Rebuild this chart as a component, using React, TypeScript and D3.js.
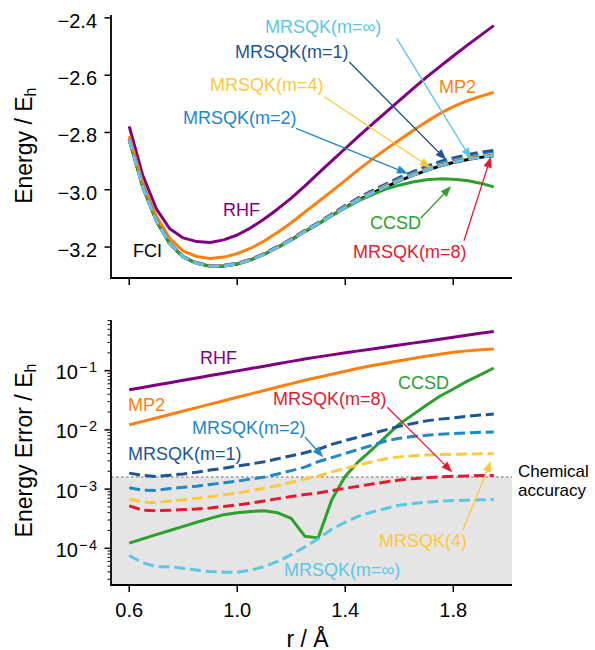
import React from "react";
import * as d3 from "d3";

// ---------- data ----------
const bondLength = [0.6, 0.65, 0.7, 0.75, 0.8, 0.85, 0.9, 0.95, 1.0, 1.05, 1.1, 1.15, 1.2, 1.25, 1.3, 1.35, 1.4, 1.45, 1.5, 1.55, 1.6, 1.65, 1.7, 1.75, 1.8, 1.85, 1.9, 1.95];

const fciEnergy = [-2.825, -2.99, -3.108, -3.188, -3.235, -3.257, -3.267, -3.266, -3.259, -3.245, -3.225, -3.201, -3.175, -3.146, -3.119, -3.09, -3.062, -3.035, -3.012, -2.99, -2.969, -2.95, -2.933, -2.917, -2.905, -2.895, -2.887, -2.881];
const rhfEnergy = [-2.779, -2.95, -3.066, -3.136, -3.168, -3.181, -3.184, -3.175, -3.158, -3.133, -3.102, -3.067, -3.029, -2.987, -2.943, -2.899, -2.856, -2.813, -2.771, -2.73, -2.689, -2.648, -2.608, -2.57, -2.533, -2.497, -2.462, -2.427];
const mp2Energy = [-2.813, -2.976, -3.092, -3.17, -3.214, -3.233, -3.24, -3.235, -3.223, -3.204, -3.179, -3.148, -3.115, -3.078, -3.042, -3.005, -2.967, -2.929, -2.893, -2.859, -2.826, -2.794, -2.763, -2.734, -2.71, -2.69, -2.674, -2.66];
const ccsdEnergy = [-2.8249, -2.9898, -3.1078, -3.1878, -3.2348, -3.2567, -3.2667, -3.2656, -3.2586, -3.2446, -3.2246, -3.2006, -3.1747, -3.1458, -3.1191, -3.0907, -3.0637, -3.038, -3.0167, -2.9977, -2.984, -2.973, -2.965, -2.962, -2.963, -2.968, -2.977, -2.99];

const rhfError = [0.0475, 0.0521, 0.0571, 0.0627, 0.0687, 0.0753, 0.0826, 0.0906, 0.0993, 0.109, 0.119, 0.131, 0.1435, 0.157, 0.171, 0.185, 0.2, 0.216, 0.233, 0.252, 0.272, 0.292, 0.315, 0.339, 0.367, 0.395, 0.427, 0.459];
const mp2Error = [0.0122, 0.0139, 0.0159, 0.0182, 0.0208, 0.0238, 0.0272, 0.031, 0.0355, 0.0406, 0.0463, 0.053, 0.0605, 0.0689, 0.0776, 0.0871, 0.0977, 0.1096, 0.122, 0.134, 0.147, 0.161, 0.176, 0.19, 0.204, 0.216, 0.225, 0.232];
const ccsdError = [1.22e-4, 1.44e-4, 1.7e-4, 2.0e-4, 2.35e-4, 2.75e-4, 3.2e-4, 3.7e-4, 4.0e-4, 4.2e-4, 4.3e-4, 3.98e-4, 3.2e-4, 1.6e-4, 1.5e-4, 6.6e-4, 1.65e-3, 2.95e-3, 4.7e-3, 7.7e-3, 1.26e-2, 1.8e-2, 2.6e-2, 3.7e-2, 4.9e-2, 6.6e-2, 8.5e-2, 0.111];
const m1Error = [1.86e-3, 1.7e-3, 1.63e-3, 1.72e-3, 1.8e-3, 1.93e-3, 2.1e-3, 2.25e-3, 2.45e-3, 2.65e-3, 2.9e-3, 3.25e-3, 3.65e-3, 4.1e-3, 4.7e-3, 5.7e-3, 6.6e-3, 7.6e-3, 8.7e-3, 1.0e-2, 1.15e-2, 1.28e-2, 1.42e-2, 1.52e-2, 1.6e-2, 1.7e-2, 1.78e-2, 1.85e-2];
const m2Error = [1.05e-3, 9.6e-4, 9.5e-4, 1.02e-3, 1.07e-3, 1.12e-3, 1.2e-3, 1.28e-3, 1.36e-3, 1.48e-3, 1.6e-3, 1.8e-3, 2.05e-3, 2.35e-3, 2.9e-3, 3.4e-3, 4.0e-3, 4.7e-3, 5.5e-3, 6.5e-3, 7.2e-3, 7.7e-3, 8.1e-3, 8.4e-3, 8.7e-3, 8.9e-3, 9.1e-3, 9.2e-3];
const m4Error = [6.8e-4, 6.0e-4, 5.9e-4, 6.3e-4, 6.6e-4, 7.0e-4, 7.4e-4, 8.0e-4, 8.6e-4, 9.4e-4, 1.03e-3, 1.15e-3, 1.3e-3, 1.48e-3, 1.65e-3, 1.95e-3, 2.25e-3, 2.55e-3, 2.9e-3, 3.25e-3, 3.5e-3, 3.65e-3, 3.75e-3, 3.82e-3, 3.88e-3, 3.92e-3, 3.95e-3, 3.95e-3];
const m8Error = [5.2e-4, 4.4e-4, 4.3e-4, 4.4e-4, 4.5e-4, 4.6e-4, 4.8e-4, 5.1e-4, 5.4e-4, 5.8e-4, 6.3e-4, 6.9e-4, 7.5e-4, 8.1e-4, 8.6e-4, 9.4e-4, 1.03e-3, 1.12e-3, 1.22e-3, 1.32e-3, 1.42e-3, 1.5e-3, 1.56e-3, 1.61e-3, 1.64e-3, 1.67e-3, 1.69e-3, 1.7e-3];
const mInfError = [7.5e-5, 5.7e-5, 4.9e-5, 4.9e-5, 4.6e-5, 4.3e-5, 4.05e-5, 3.95e-5, 3.95e-5, 4.3e-5, 4.9e-5, 6.0e-5, 7.8e-5, 1.05e-4, 1.45e-4, 2.1e-4, 2.75e-4, 3.5e-4, 4.1e-4, 4.7e-4, 5.35e-4, 5.7e-4, 6.0e-4, 6.25e-4, 6.4e-4, 6.5e-4, 6.6e-4, 6.65e-4];

const chemicalAccuracy = 1.6e-3;

const xTicks = [0.6, 1.0, 1.4, 1.8];
const energyTicks = [-3.2, -3.0, -2.8, -2.6, -2.4];
const errorDecades = [-4, -3, -2, -1];

// ---------- styles ----------
const C = {
  rhf: "#800080",
  mp2: "#ff7f0e",
  ccsd: "#2ca02c",
  fci: "#000000",
  m1: "#1d5590",
  m2: "#2287c5",
  m4: "#fdc83a",
  m8: "#e41a2e",
  mInf: "#5cc6e6",
};
const FONT = "'Liberation Sans', Arial, Helvetica, sans-serif";
const DASH = "11 4.8";
const LW = 3;

const topLabels = [
  { text: "MRSQK(m=∞)", r: 1.1028, v: -2.4511, color: C.mInf },
  { text: "MRSQK(m=1)", r: 0.9917, v: -2.5401, color: C.m1 },
  { text: "MRSQK(m=4)", r: 0.8991, v: -2.657, color: C.m4 },
  { text: "MRSQK(m=2)", r: 0.7991, v: -2.7705, color: C.m2 },
  { text: "RHF", r: 0.9473, v: -3.0916, color: C.rhf },
  { text: "FCI", r: 0.614, v: -3.2347, color: C.fci },
  { text: "MP2", r: 1.7471, v: -2.6623, color: C.mp2 },
  { text: "CCSD", r: 1.4916, v: -3.1387, color: C.ccsd },
  { text: "MRSQK(m=8)", r: 1.4287, v: -3.2382, color: C.m8 },
];
const topArrows = [
  { r1: 1.5905, v1: -2.4713, r2: 1.8645, v2: -2.8902, color: C.mInf },
  { r1: 1.415, v1: -2.5541, r2: 1.772, v2: -2.8937, color: C.m1 },
  { r1: 1.3224, v1: -2.6752, r2: 1.7138, v2: -2.9216, color: C.m4 },
  { r1: 1.2176, v1: -2.7855, r2: 1.6298, v2: -2.9425, color: C.m2 },
  { r1: 1.6794, v1: -3.0996, r2: 1.7905, v2: -2.9893, color: C.ccsd },
  { r1: 1.8397, v1: -3.1778, r2: 1.9386, v2: -2.8867, color: C.m8 },
];
const bottomLabels = [
  { text: "RHF", r: 0.8621, v: 0.1297, color: C.rhf, size: 18 },
  { text: "MP2", r: 0.5955, v: 0.02109, color: C.mp2, size: 18 },
  { text: "MRSQK(m=2)", r: 0.8325, v: 0.008519, color: C.m2, size: 18 },
  { text: "MRSQK(m=1)", r: 0.5955, v: 0.003099, color: C.m1, size: 18 },
  { text: "CCSD", r: 1.5953, v: 0.04903, color: C.ccsd, size: 18 },
  { text: "MRSQK(m=8)", r: 1.1324, v: 0.02683, color: C.m8, size: 18 },
  { text: "Chemical", r: 2.0397, v: 0.0016, color: "#000", size: 17 },
  { text: "accuracy", r: 2.0397, v: 0.00077, color: "#000", size: 17 },
  { text: "MRSQK(4)", r: 1.525, v: 0.0001051, color: C.m4, size: 18 },
  { text: "MRSQK(m=∞)", r: 1.1732, v: 3.402e-5, color: C.mInf, size: 18 },
];
const bottomArrows = [
  { r1: 1.2509, v1: 0.007582, r2: 1.3165, v2: 0.003524, color: C.m2 },
  { r1: 1.5557, v1: 0.02406, r2: 1.7942, v2: 0.001966, color: C.m8 },
  { r1: 1.8349, v1: 0.0001982, r2: 1.9386, v2: 0.0029, color: C.m4 },
];

// ---------- layout ----------
const W = 595;
const H = 650;
const L = 111;
const R = 512;
const TOP = { t: 15, b: 278 };
const BOT = { t: 320, b: 585 };

const x = d3.scaleLinear().domain([0.5325, 2.0175]).range([L, R]);
const yTop = d3.scaleLinear().domain([-3.308, -2.39]).range([TOP.b, TOP.t]);
const yBot = d3.scaleLog().domain([Math.pow(10, -4.62), Math.pow(10, -0.144)]).range([BOT.b, BOT.t]);

function Arrow({ x1, y1, x2, y2, color }: any) {
  const dx = x2 - x1;
  const dy = y2 - y1;
  const len = Math.sqrt(dx * dx + dy * dy);
  const ux = dx / len;
  const uy = dy / len;
  const hl = 10;
  const hw = 3.8;
  const bx = x2 - ux * hl;
  const by = y2 - uy * hl;
  const pts = [
    [x2, y2],
    [bx - uy * hw, by + ux * hw],
    [bx + uy * hw, by - ux * hw],
  ]
    .map((p) => p.join(","))
    .join(" ");
  return (
    <g>
      <line x1={x1} y1={y1} x2={bx} y2={by} stroke={color} strokeWidth={1.3} />
      <polygon points={pts} fill={color} stroke={color} strokeWidth={0.6} strokeLinejoin="miter" />
    </g>
  );
}

export default function App() {
  const lineTop = (vals: number[]) =>
    d3
      .line<number>()
      .x((_, i) => x(bondLength[i]))
      .y((v) => yTop(v))(vals) as string;
  const lineBot = (vals: number[]) =>
    d3
      .line<number>()
      .x((_, i) => x(bondLength[i]))
      .y((v) => yBot(v))(vals) as string;

  const mrsqk = [
    { err: m1Error, color: C.m1 },
    { err: m2Error, color: C.m2 },
    { err: m4Error, color: C.m4 },
    { err: m8Error, color: C.m8 },
    { err: mInfError, color: C.mInf },
  ];

  const minorTicks: number[] = [];
  for (let e = -5; e <= 0; e++) {
    for (let k = 2; k <= 9; k++) {
      const v = k * Math.pow(10, e);
      if (v >= yBot.domain()[0] && v <= yBot.domain()[1]) minorTicks.push(v);
    }
  }

  return (
    <svg
      width={W}
      height={H}
      viewBox={`0 0 ${W} ${H}`}
      style={{ position: "absolute", left: 0, top: 0, background: "#fff" }}
      fontFamily={FONT}
    >
      <rect x={0} y={0} width={W} height={H} fill="#fff" />

      {/* ===== TOP PANEL ===== */}
      <g fill="none" strokeLinejoin="round">
        <path d={lineTop(fciEnergy)} stroke={C.fci} strokeWidth={LW} />
        <path d={lineTop(ccsdEnergy)} stroke={C.ccsd} strokeWidth={LW} />
        <path d={lineTop(rhfEnergy)} stroke={C.rhf} strokeWidth={LW} />
        <path d={lineTop(mp2Energy)} stroke={C.mp2} strokeWidth={LW} />
        {mrsqk.map((s, j) => (
          <path
            key={j}
            d={lineTop(s.err.map((e, i) => fciEnergy[i] + e))}
            stroke={s.color}
            strokeWidth={LW}
            strokeDasharray={DASH}
          />
        ))}
      </g>
      {/* axes top */}
      <line x1={L} y1={TOP.t} x2={L} y2={TOP.b} stroke="#000" strokeWidth={1.8} />
      <line x1={L - 0.9} y1={TOP.b} x2={R} y2={TOP.b} stroke="#000" strokeWidth={1.8} />
      {energyTicks.map((t) => (
        <g key={t}>
          <line x1={L - 6.5} x2={L} y1={yTop(t)} y2={yTop(t)} stroke="#000" strokeWidth={1.5} />
          <text x={97} y={yTop(t) + 10} textAnchor="end" fontSize={20} fill="#000">
            {"−" + Math.abs(t).toFixed(1)}
          </text>
        </g>
      ))}
      {xTicks.map((t) => (
        <line key={t} x1={x(t)} x2={x(t)} y1={TOP.b} y2={TOP.b + 7} stroke="#000" strokeWidth={1.5} />
      ))}
      <text transform={`translate(32,145.7) rotate(-90)`} textAnchor="middle" fontSize={23} fill="#000">
        Energy / E
        <tspan dy={4} fontSize={16}>
          h
        </tspan>
      </text>
      {topLabels.map((l, i) => (
        <text key={i} x={x(l.r)} y={yTop(l.v)} fontSize={18} fill={l.color}>
          {l.text}
        </text>
      ))}
      {topArrows.map((a, i) => (
        <Arrow key={i} x1={x(a.r1)} y1={yTop(a.v1)} x2={x(a.r2)} y2={yTop(a.v2)} color={a.color} />
      ))}

      {/* ===== BOTTOM PANEL ===== */}
      <rect x={L} y={yBot(chemicalAccuracy)} width={R - L} height={BOT.b - yBot(chemicalAccuracy)} fill="#e5e5e5" />
      <line
        x1={L}
        x2={R}
        y1={yBot(chemicalAccuracy)}
        y2={yBot(chemicalAccuracy)}
        stroke="#9a9a9a"
        strokeWidth={1.5}
        strokeDasharray="2.5 2.5"
      />
      <g fill="none" strokeLinejoin="round">
        <path d={lineBot(rhfError)} stroke={C.rhf} strokeWidth={LW} />
        <path d={lineBot(mp2Error)} stroke={C.mp2} strokeWidth={LW} />
        <path d={lineBot(ccsdError)} stroke={C.ccsd} strokeWidth={LW} />
        {mrsqk.map((s, j) => (
          <path key={j} d={lineBot(s.err)} stroke={s.color} strokeWidth={LW} strokeDasharray={DASH} />
        ))}
      </g>
      <line x1={L} y1={BOT.t} x2={L} y2={BOT.b} stroke="#000" strokeWidth={1.8} />
      <line x1={L - 0.9} y1={BOT.b} x2={R} y2={BOT.b} stroke="#000" strokeWidth={1.8} />
      {minorTicks.map((v, i) => (
        <line key={i} x1={L - 3.5} x2={L} y1={yBot(v)} y2={yBot(v)} stroke="#000" strokeWidth={1} />
      ))}
      {errorDecades.map((e) => {
        const yy = yBot(Math.pow(10, e));
        return (
          <g key={e}>
            <line x1={L - 6.5} x2={L} y1={yy} y2={yy} stroke="#000" strokeWidth={1.5} />
            <text x={97} y={yy + 8.6} textAnchor="end" fontSize={20} fill="#000">
              10
              <tspan dy={-7} dx={1} fontSize={14.5}>
                −
              </tspan>
              <tspan dx={1.5} fontSize={14.5}>
                {Math.abs(e)}
              </tspan>
            </text>
          </g>
        );
      })}
      {xTicks.map((t) => (
        <g key={t}>
          <line x1={x(t)} x2={x(t)} y1={BOT.b} y2={BOT.b + 7} stroke="#000" strokeWidth={1.5} />
          <text x={x(t)} y={616.7} textAnchor="middle" fontSize={20} fill="#000">
            {t.toFixed(1)}
          </text>
        </g>
      ))}
      <text transform={`translate(32,450.5) rotate(-90)`} textAnchor="middle" fontSize={23} fill="#000">
        Energy Error / E
        <tspan dy={4} fontSize={16}>
          h
        </tspan>
      </text>
      <text x={(L + R) / 2 - 4} y={646.5} textAnchor="middle" fontSize={23} fill="#000">
        r / Å
      </text>
      {bottomLabels.map((l, i) => (
        <text key={i} x={x(l.r)} y={yBot(l.v)} fontSize={l.size} fill={l.color}>
          {l.text}
        </text>
      ))}
      {bottomArrows.map((a, i) => (
        <Arrow key={i} x1={x(a.r1)} y1={yBot(a.v1)} x2={x(a.r2)} y2={yBot(a.v2)} color={a.color} />
      ))}
    </svg>
  );
}
